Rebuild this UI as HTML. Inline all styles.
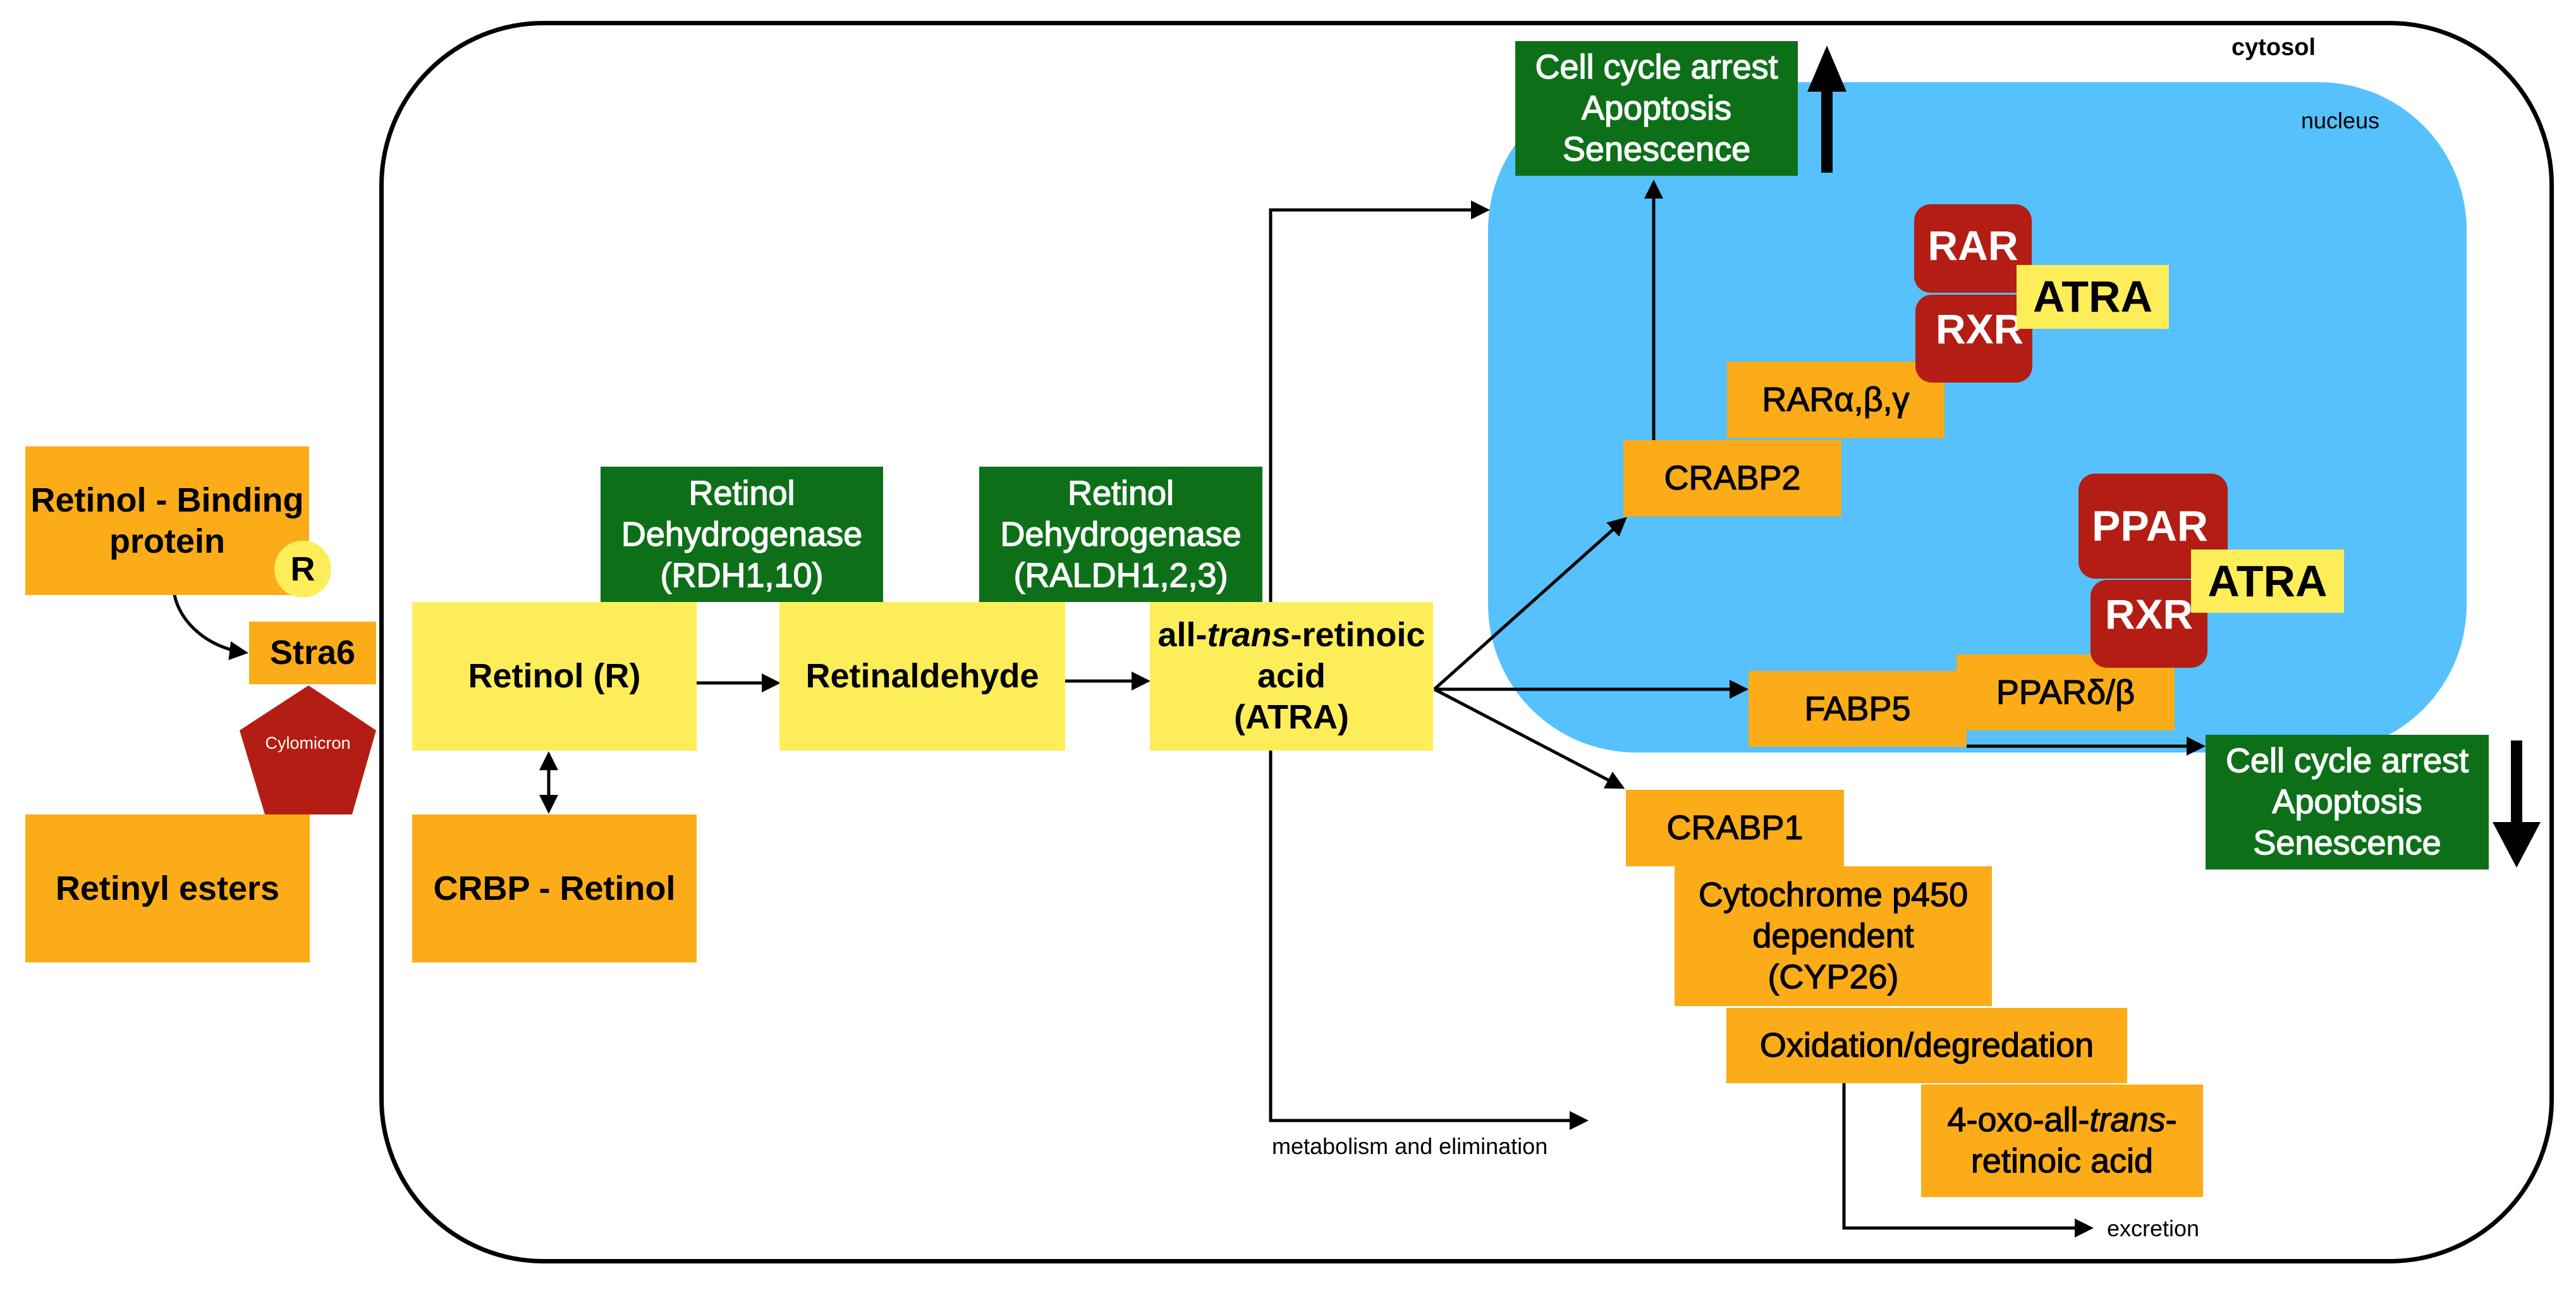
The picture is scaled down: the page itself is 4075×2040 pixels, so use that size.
<!DOCTYPE html>
<html><head><meta charset="utf-8"><style>
body{margin:0;width:4075px;height:2040px;background:#fff;position:relative;overflow:hidden;font-family:"Liberation Sans",Arial,sans-serif;}
.b{position:absolute;display:flex;align-items:center;justify-content:center;text-align:center;box-sizing:border-box;line-height:65px;font-size:54px;color:#000;}
.o{background:#fbac18;}
.y{background:#fdee59;}
.g{background:#0d7019;color:#fff;-webkit-text-stroke:1.4px #fff;}
.r{background:#b31d14;color:#fff;border-radius:26px;font-size:66px;font-weight:bold;}
.bold{font-weight:bold;}
.med{-webkit-text-stroke:1.2px #000;}
.t{position:absolute;white-space:nowrap;}
</style></head><body>
<div style="position:absolute;left:600px;top:33px;width:3440px;height:1965px;border:7px solid #000;border-radius:260px;box-sizing:border-box;"></div>
<div style="position:absolute;left:2354px;top:130px;width:1548px;height:1060px;background:#56c1fc;border-radius:234px;"></div>

<svg style="position:absolute;left:0;top:0" width="4075" height="2040">
<defs><marker id="a" markerWidth="6" markerHeight="6" refX="5" refY="3" orient="auto" markerUnits="strokeWidth"><path d="M0,0 L6,3 L0,6 z" fill="#000"/></marker>
<marker id="s" markerWidth="6" markerHeight="6" refX="5" refY="3" orient="auto-start-reverse" markerUnits="strokeWidth"><path d="M0,0 L6,3 L0,6 z" fill="#000"/></marker></defs>
<g stroke="#000" stroke-width="5" fill="none">
<path d="M276,941 C285,985 330,1025 388,1032" marker-end="url(#a)"/>
<line x1="1102" y1="1080" x2="1230" y2="1080" marker-end="url(#a)"/>
<line x1="1685" y1="1077" x2="1815" y2="1077" marker-end="url(#a)"/>
<line x1="868" y1="1193" x2="868" y2="1282" marker-start="url(#s)" marker-end="url(#s)"/>
<polyline points="2010,1772 2010,332 2352,332" marker-end="url(#a)"/>
<polyline points="2010,1000 2010,1772 2508,1772" marker-end="url(#a)"/>
<line x1="2269" y1="1090" x2="2570" y2="821" marker-end="url(#a)"/>
<line x1="2269" y1="1090" x2="2761" y2="1090" marker-end="url(#a)"/>
<line x1="2269" y1="1090" x2="2566" y2="1245" marker-end="url(#a)"/>
<line x1="2616" y1="696" x2="2616" y2="289" marker-end="url(#a)"/>
<line x1="3111" y1="1180" x2="3484" y2="1180" marker-end="url(#a)"/>
<polyline points="2917,1713 2917,1942 3307,1942" marker-end="url(#a)"/>
</g>
<polygon points="2859,145 2890,72 2921,145 2899,145 2899,273 2881,273 2881,145" fill="#000"/>
<polygon points="3972,1171 3990,1171 3990,1300 4019,1300 3981,1372 3943,1300 3972,1300" fill="#000"/>
</svg>

<div class="b o bold" style="left:40px;top:706px;width:449px;height:235px;"><span>Retinol - Binding<br>protein</span></div>
<div class="b y bold" style="left:434px;top:855px;width:90px;height:90px;border-radius:50%;">R</div>
<div class="b o bold" style="left:394px;top:983px;width:201px;height:99px;">Stra6</div>
<svg style="position:absolute;left:0;top:0" width="700" height="1400">
<polygon points="488,1084 595,1155 557,1288 419,1288 379,1155" fill="#b31d14"/>
</svg>
<div class="t" style="left:379px;top:1160px;width:216px;text-align:center;color:#fff;font-size:27px;">Cylomicron</div>
<div class="b o bold" style="left:40px;top:1288px;width:450px;height:234px;">Retinyl esters</div>

<div class="b g" style="left:950px;top:738px;width:447px;height:214px;"><span>Retinol<br>Dehydrogenase<br>(RDH1,10)</span></div>
<div class="b g" style="left:1549px;top:738px;width:448px;height:214px;"><span>Retinol<br>Dehydrogenase<br>(RALDH1,2,3)</span></div>
<div class="b y bold" style="left:652px;top:952px;width:450px;height:235px;">Retinol (R)</div>
<div class="b y bold" style="left:1233px;top:952px;width:452px;height:235px;">Retinaldehyde</div>
<div class="b y bold" style="left:1819px;top:952px;width:448px;height:235px;"><span>all-<i>trans</i>-retinoic<br>acid<br>(ATRA)</span></div>
<div class="b o bold" style="left:652px;top:1288px;width:450px;height:234px;">CRBP - Retinol</div>

<div class="b g" style="left:2397px;top:65px;width:447px;height:213px;"><span>Cell cycle arrest<br>Apoptosis<br>Senescence</span></div>
<div class="b o med" style="left:2732px;top:572px;width:344px;height:121px;">RARα,β,γ</div>
<div class="b o med" style="left:2568px;top:696px;width:345px;height:121px;">CRABP2</div>
<div class="b r" style="left:3028px;top:323px;width:186px;height:140px;padding-bottom:10px;">RAR</div>
<div class="b r" style="left:3030px;top:466px;width:185px;height:139px;justify-content:flex-start;padding-left:32px;padding-bottom:30px;">RXR</div>
<div class="b y bold" style="left:3190px;top:419px;width:241px;height:101px;font-size:70px;">ATRA</div>
<div class="b o med" style="left:3095px;top:1035px;width:345px;height:120px;">PPARδ/β</div>
<div class="b r" style="left:3288px;top:749px;width:236px;height:166px;font-size:68px;padding-right:10px;">PPAR</div>
<div class="b r" style="left:3307px;top:917px;width:185px;height:139px;padding-bottom:30px;">RXR</div>
<div class="b y bold" style="left:3466px;top:869px;width:242px;height:100px;font-size:70px;">ATRA</div>
<div class="b o med" style="left:2766px;top:1061px;width:345px;height:120px;">FABP5</div>
<div class="b g" style="left:3489px;top:1162px;width:448px;height:213px;"><span>Cell cycle arrest<br>Apoptosis<br>Senescence</span></div>
<div class="b o med" style="left:2572px;top:1249px;width:345px;height:121px;">CRABP1</div>
<div class="b o med" style="left:2649px;top:1370px;width:502px;height:221px;"><span>Cytochrome p450<br>dependent<br>(CYP26)</span></div>
<div class="b o med" style="left:2731px;top:1594px;width:634px;height:119px;">Oxidation/degredation</div>
<div class="b o med" style="left:3039px;top:1715px;width:446px;height:178px;"><span>4-oxo-all-<i>trans</i>-<br>retinoic acid</span></div>

<div class="t" style="left:3530px;top:54px;font-size:38px;font-weight:bold;">cytosol</div>
<div class="t" style="left:3640px;top:170px;font-size:36px;">nucleus</div>
<div class="t" style="left:2012px;top:1792px;font-size:36px;">metabolism and elimination</div>
<div class="t" style="left:3333px;top:1922px;font-size:36px;">excretion</div>
</body></html>
